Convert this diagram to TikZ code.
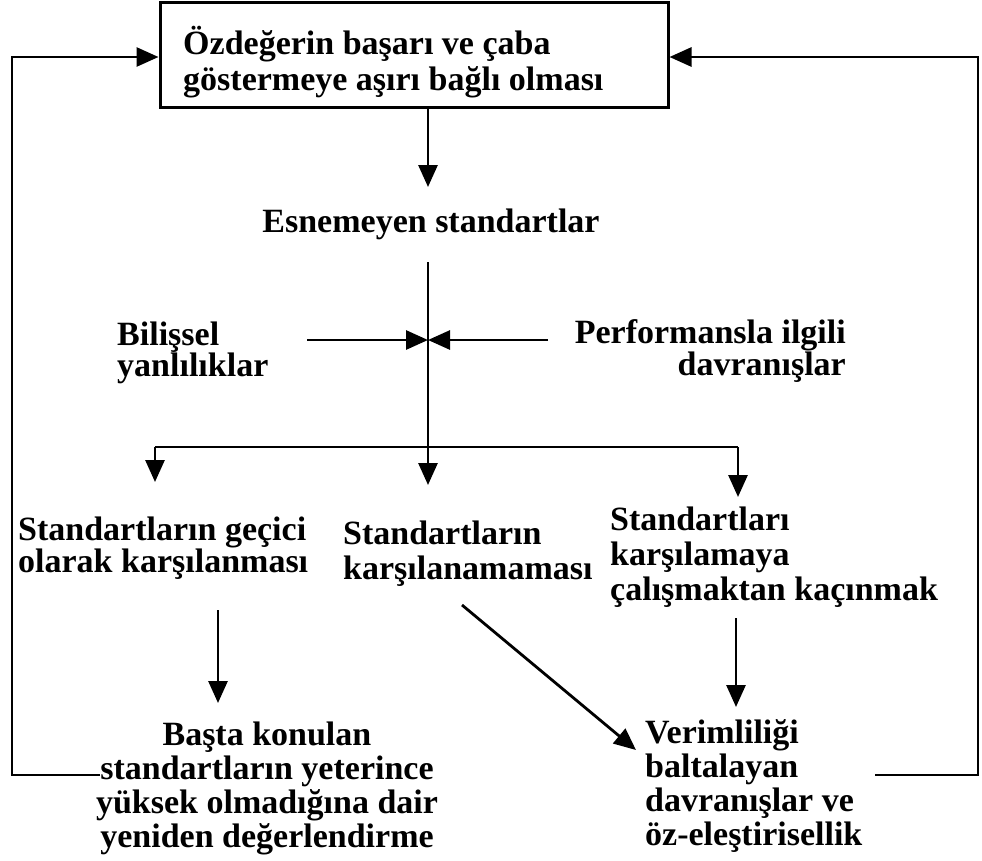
\documentclass[tikz,border=0pt]{standalone}
\usepackage{fontspec}
\setmainfont{Liberation Serif}
\usetikzlibrary{arrows.meta}
\lineskiplimit=-100pt
\begin{document}
\begin{tikzpicture}[x=1pt,y=-1pt,
    txt/.style={inner sep=0pt,font=\fontsize{34}{35}\selectfont\bfseries},
    conn/.style={line width=2.8pt},
    arr/.style={conn,-{Triangle[length=22pt,width=19pt]}}]
    \useasboundingbox (0,0) rectangle (982,860);

    % top box
    \node[draw,line width=3pt,minimum width=508pt,minimum height=105pt,inner sep=0pt] (selfworth) at (414,55) {};
    \node[txt,anchor=base west,align=left,font=\fontsize{34}{36}\selectfont\bfseries] (selfworthtext) at (183,90)
        {Özdeğerin başarı ve çaba\\göstermeye aşırı bağlı olması};

    \node[txt,anchor=base] (standards) at (431,232) {Esnemeyen standartlar};
    \node[txt,anchor=base west,align=left,font=\fontsize{34}{31}\selectfont\bfseries] (bias) at (117,376) {Bilişsel\\yanlılıklar};
    \node[txt,anchor=base east,align=right,font=\fontsize{34}{32}\selectfont\bfseries] (perf) at (846,375) {Performansla ilgili\\davranışlar};

    \node[txt,anchor=base west,align=left,font=\fontsize{34}{32}\selectfont\bfseries] (temp) at (18,572) {Standartların geçici\\olarak karşılanması};
    \node[txt,anchor=base west,align=left,font=\fontsize{34}{35}\selectfont\bfseries] (fail) at (343,579) {Standartların\\karşılanamaması};
    \node[txt,anchor=base west,align=left,font=\fontsize{34}{35}\selectfont\bfseries] (avoid) at (610,600) {Standartları\\karşılamaya\\çalışmaktan kaçınmak};

    \node[txt,anchor=base,align=center,font=\fontsize{34}{34}\selectfont\bfseries] (reapp) at (267,847) {Başta konulan\\standartların yeterince\\yüksek olmadığına dair\\yeniden değerlendirme};
    \node[txt,anchor=base west,align=left,font=\fontsize{34}{34}\selectfont\bfseries] (counter) at (645,845) {Verimliliği\\baltalayan\\davranışlar ve\\öz-eleştirisellik};

    % free ends
    \coordinate (stemtop) at (428,262);
    \coordinate (cross) at (428,340);
    \coordinate (biasend) at (307,340);
    \coordinate (perfend) at (548,340);
    \coordinate (branch) at (428,447);
    \coordinate (branchl) at (155,447);
    \coordinate (branchr) at (738,447);

    \draw[arr] (selfworth.south -| 428,0) -- (428,187);
    \draw[conn] (stemtop) -- (branch);
    \draw[arr] (biasend) -- (cross);
    \draw[arr] (perfend) -- (cross);
    \draw[conn] (branchl) -- (branchr);
    \draw[arr] (branch) -- (428,485);
    \draw[arr] (branchl) -- (155,482);
    \draw[arr] (branchr) -- (738,497);

    \draw[arr] (218,610) -- (218,703);
    \draw[arr] (736,618) -- (736,707);
    \draw[arr] (462,605) -- (636,750);

    % feedback loops
    \draw[arr] (100,775) -- (12,775) -- (12,57) -- (selfworth.west |- 0,57);
    \draw[arr] (875,775) -- (978,775) -- (978,57) -- (selfworth.east |- 0,57);
\end{tikzpicture}
\end{document}
